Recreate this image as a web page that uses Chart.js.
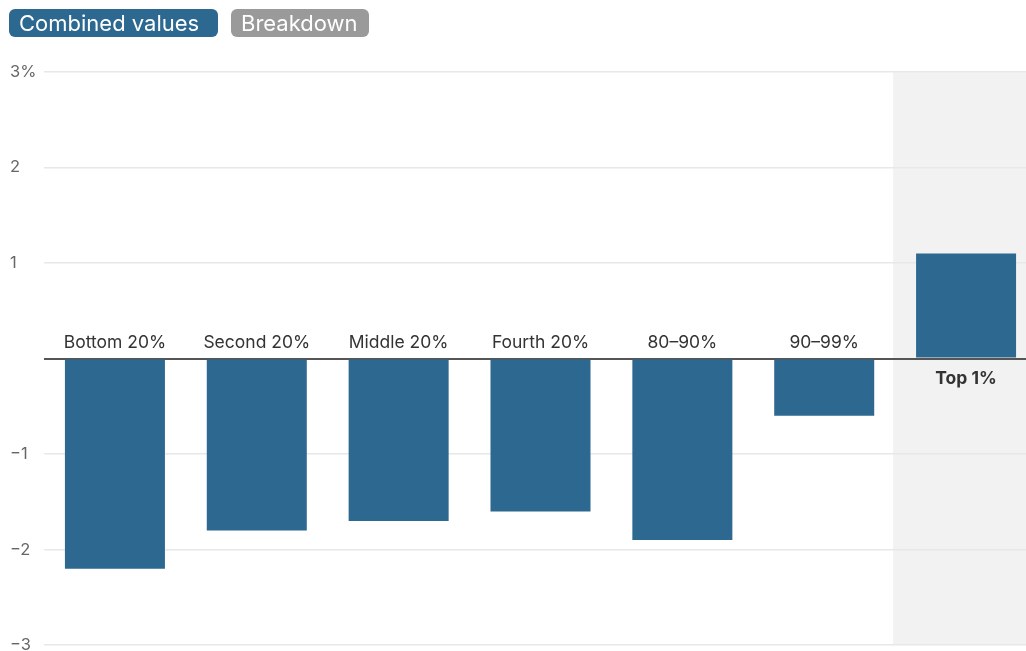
<!DOCTYPE html>
<html>
<head>
<meta charset="utf-8">
<script src="https://cdn.jsdelivr.net/npm/chart.js@4/dist/chart.umd.min.js"></script>
<style>
  html, body { margin: 0; padding: 0; background: #fff; overflow: hidden; width: 1026px; height: 651px; }
  .btns { position: absolute; left: 9px; top: 9px; z-index: 2; display: flex; gap: 13px; }
  .btn { font-family: Inter, Roboto, sans-serif; font-size: 22px; color: #fff; border-radius: 6px; height: 28px; line-height: 28px; padding: 0 10px; box-sizing: border-box; white-space: nowrap; }
  .on { background: #2d6890; width: 209px; }
  .off { background: #9a9a9a; width: 138px; }
  #wrap { position: absolute; left: 0; top: 0; width: 1040px; height: 655px; }
</style>
</head>
<body>
<div class="btns"><div class="btn on">Combined values</div><div class="btn off">Breakdown</div></div>
<div id="wrap"><canvas id="c" width="1040" height="655"></canvas></div>
<script>
const categories = ["Bottom 20%", "Second 20%", "Middle 20%", "Fourth 20%", "80\u201390%", "90\u201399%", "Top 1%"];
const values = [-2.2, -1.8, -1.7, -1.6, -1.9, -0.6, 1.1];
const yTicks = [3, 2, 1, 0, -1, -2, -3];
const highlightIndex = 6;

const barColor = "#2d6890";
const FONT = "Inter, Roboto, 'Noto Sans', sans-serif";

const bgBand = {
  id: "bgBand",
  beforeDraw(chart) {
    const {ctx, chartArea} = chart;
    const x = chart.scales.x;
    const step = x.getPixelForValue(1) - x.getPixelForValue(0);
    const left = x.getPixelForValue(highlightIndex) - step / 2 - 2;
    ctx.save();
    ctx.fillStyle = "#f2f2f2";
    ctx.fillRect(left, chartArea.top, chartArea.right - left, chartArea.bottom - chartArea.top);
    ctx.restore();
  }
};

const catLabels = {
  id: "catLabels",
  afterDatasetsDraw(chart) {
    const {ctx} = chart;
    const x = chart.scales.x, y = chart.scales.y;
    const y0 = y.getPixelForValue(0);
    ctx.save();
    ctx.textAlign = "center";
    ctx.textBaseline = "middle";
    categories.forEach((c, i) => {
      const px = x.getPixelForValue(i);
      const bold = i === highlightIndex;
      ctx.font = (bold ? "bold " : "") + "17.5px " + FONT;
      ctx.fillStyle = "#333";
      const py = values[i] < 0 ? y0 - 16 : y0 + 20;
      ctx.fillText(c, px, py);
    });
    ctx.restore();
  }
};

new Chart(document.getElementById("c"), {
  type: "bar",
  data: {
    labels: categories,
    datasets: [{
      data: values,
      backgroundColor: barColor,
      borderWidth: 0,
      categoryPercentage: 1,
      barPercentage: 0.705
    }]
  },
  options: {
    responsive: false,
    animation: false,
    devicePixelRatio: 1,
    layout: { padding: { top: 72, left: 10, right: 3, bottom: 0 } },
    plugins: { legend: { display: false }, tooltip: { enabled: false } },
    scales: {
      x: {
        display: false,
        offset: true,
        grid: { display: false }
      },
      y: {
        min: -3, max: 3,
        afterFit(s) { s.width = 34; },
        afterBuildTicks(s) { s.ticks = yTicks.map(v => ({value: v})); },
        border: { display: false },
        grid: {
          drawTicks: false,
          color: ctx => ctx.tick && ctx.tick.value === 0 ? "#555" : "#e8e8e8",
          lineWidth: ctx => ctx.tick && ctx.tick.value === 0 ? 2 : 1.5
        },
        ticks: {
          crossAlign: "far",
          padding: 0,
          color: "#666",
          font: { family: FONT, size: 16.5 },
          callback: v => v === 3 ? "3%" : v === 0 ? "" : (v < 0 ? "\u2212" + Math.abs(v) : String(v))
        }
      }
    }
  },
  plugins: [bgBand, catLabels]
});
</script>
</body>
</html>
